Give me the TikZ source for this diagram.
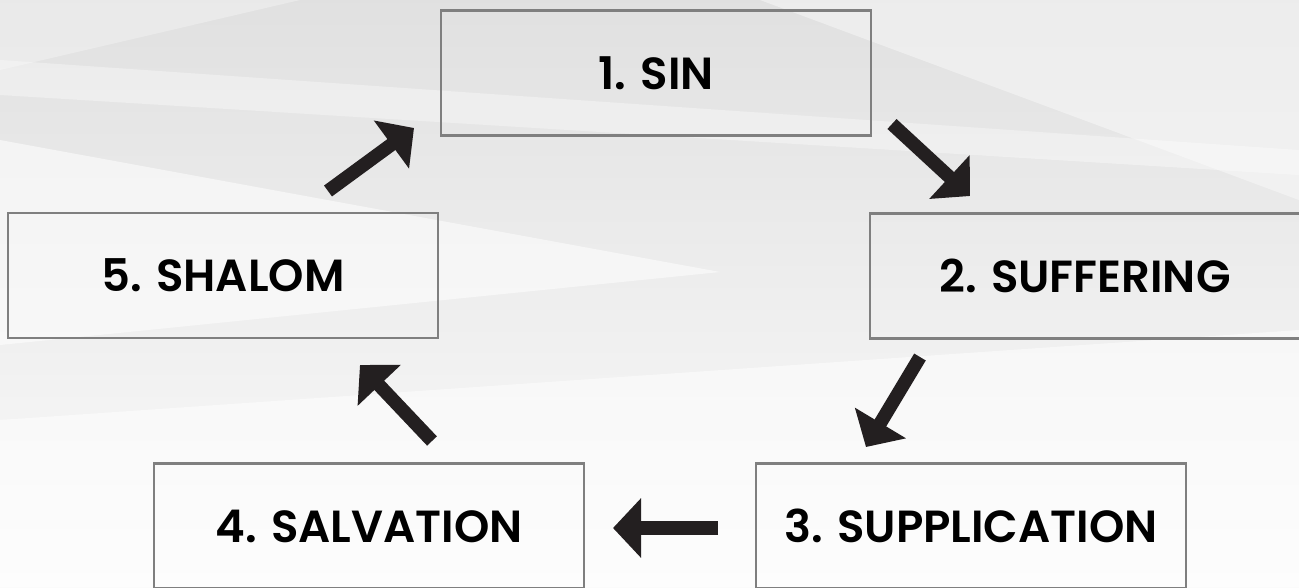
\documentclass[tikz,border=0pt]{standalone}
\usepackage{fontspec}
\setmainfont{Poppins}[BoldFont={Poppins SemiBold}]
\usepackage{xcolor}
\usetikzlibrary{arrows.meta,calc}
\definecolor{boxgray}{HTML}{7F7F7F}
\definecolor{arrowblack}{HTML}{231F20}

\begin{document}
\begin{tikzpicture}[x=1pt,y=-1pt,
    stage/.style={draw=boxgray,line width=2.5pt,minimum width=430pt,minimum height=125pt,inner sep=0pt,
      font=\bfseries\fontsize{45}{49}\selectfont},
    flow/.style={arrowblack,line width=13.5pt,-{Triangle[width=58pt,length=28pt]}}]
    \useasboundingbox (0,0) rectangle (1299,587);
    \shade[top color=gray!24,bottom color=gray!3] (0,0) rectangle (1299,587);
    \fill[white,opacity=.55] (0,140) -- (720,272) -- (0,345) -- cycle;
    \fill[white,opacity=.4] (760,0) -- (1299,0) -- (1299,200) -- cycle;
    \fill[white,opacity=.35] (0,60) -- (1299,150) -- (1299,175) -- (0,95) -- cycle;
    \fill[white,opacity=.5] (0,420) -- (1299,330) -- (1299,587) -- (0,587) -- cycle;
    \fill[white,opacity=.3] (0,0) -- (300,0) -- (0,70) -- cycle;
    \node[stage] (sin) at (656,73) {1. SIN};
    \node[stage] (suffering) at (1085,276) {2. SUFFERING};
    \node[stage] (supplication) at (971,526) {3. SUPPLICATION};
    \node[stage] (salvation) at (369,526) {4. SALVATION};
    \node[stage] (shalom) at (223,275.5) {5. SHALOM};
    \coordinate (t1) at (892,124); \coordinate (h1) at (970,196);
    \coordinate (t2) at (920,357); \coordinate (h2) at (866,447);
    \coordinate (t3) at (718,528); \coordinate (h3) at (613,528);
    \coordinate (t4) at (432,441); \coordinate (h4) at (360,365);
    \coordinate (t5) at (328,191); \coordinate (h5) at (414,128);
    \draw[flow] (t1) -- (h1);
    \draw[flow] (t2) -- (h2);
    \draw[flow] (t3) -- (h3);
    \draw[flow] (t4) -- (h4);
    \draw[flow] (t5) -- (h5);
\end{tikzpicture}
\end{document}
